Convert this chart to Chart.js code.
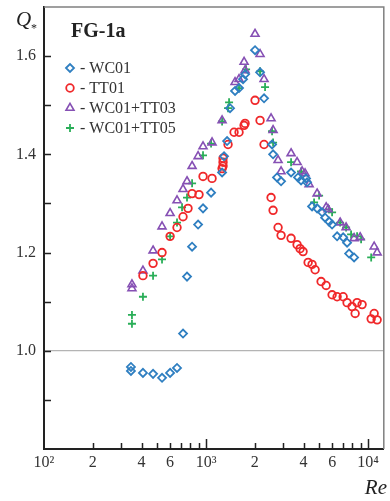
<!DOCTYPE html>
<html>
<head>
<meta charset="utf-8">
<script src="https://cdn.jsdelivr.net/npm/chart.js@4.4.0/dist/chart.umd.min.js"></script>
<style>
  html, body { margin: 0; padding: 0; background: #fff; }
  #wrap { width: 390px; height: 501px; }
</style>
</head>
<body>
<div id="wrap"><canvas id="fg1a" width="390" height="501"></canvas></div>
<script>
// Q* vs Re, one array pair per series
const reWC01 = [344, 344, 408, 471, 535, 600, 662, 721, 763, 820, 893, 958, 1074, 1256, 1291, 1348, 1406, 1510, 1598, 1692, 1741,
  2006, 2154, 2280, 2555, 2592, 2742, 2904, 3347, 3697, 3857, 4142, 4200, 4511, 4845, 5203, 5430, 5745, 5995, 6438, 7016, 7419, 7631, 8196];
const qWC01 = [0.967, 0.959, 0.955, 0.953, 0.945, 0.955, 0.965, 1.035, 1.151, 1.212, 1.257, 1.290, 1.322, 1.363, 1.396, 1.427, 1.494, 1.529, 1.535, 1.553, 1.563,
  1.612, 1.567, 1.514, 1.420, 1.400, 1.353, 1.345, 1.363, 1.353, 1.347, 1.351, 1.343, 1.294, 1.290, 1.282, 1.271, 1.263, 1.257, 1.233, 1.231, 1.220, 1.198, 1.190];

const reTT01 = [408, 471, 535, 600, 662, 721, 774, 820, 905, 958, 1089, 1256, 1273, 1273, 1273, 1367, 1489, 1598, 1717, 1741,
  2006, 2154, 2280, 2519, 2592, 2783, 2904, 3347, 3646, 3804, 3969, 4265, 4511, 4710, 5128, 5508, 5995, 6438, 7016, 7419, 7962, 8318, 8551, 9183, 10447, 10900, 11370];
const qTT01 = [1.153, 1.178, 1.200, 1.233, 1.251, 1.273, 1.290, 1.320, 1.318, 1.355, 1.351, 1.371, 1.376, 1.384, 1.392, 1.420, 1.445, 1.445, 1.459, 1.463,
  1.510, 1.469, 1.420, 1.312, 1.286, 1.251, 1.235, 1.229, 1.216, 1.208, 1.202, 1.180, 1.176, 1.165, 1.141, 1.133, 1.114, 1.110, 1.110, 1.098, 1.090, 1.076, 1.098, 1.094, 1.065, 1.076, 1.063];

const reTT03 = [349, 349, 408, 471, 535, 600, 662, 721, 763, 820, 893, 958, 1089, 1256, 1510, 1598, 1717, 1741,
  2006, 2154, 2280, 2519, 2592, 2783, 2904, 3347, 3646, 3915, 4083, 4325, 4845, 5508, 5664, 6719, 7314, 8196, 8929, 10900, 11370];
const qTT03 = [1.135, 1.127, 1.163, 1.204, 1.253, 1.280, 1.306, 1.329, 1.345, 1.376, 1.396, 1.416, 1.424, 1.469, 1.547, 1.553, 1.588, 1.571,
  1.645, 1.604, 1.553, 1.473, 1.449, 1.388, 1.365, 1.402, 1.384, 1.365, 1.361, 1.339, 1.320, 1.292, 1.288, 1.261, 1.251, 1.229, 1.231, 1.212, 1.200];

const reTT05 = [349, 349, 408, 471, 535, 600, 662, 711, 763, 820, 958, 1074, 1256, 1367, 1387, 1598, 1766,
  2154, 2313, 2555, 2592, 3347, 3857, 4642, 4985, 5745, 5995, 6719, 7314, 7852, 8551, 9053, 10447];
const qTT05 = [1.073, 1.055, 1.110, 1.153, 1.186, 1.233, 1.261, 1.292, 1.312, 1.341, 1.398, 1.422, 1.467, 1.494, 1.506, 1.535, 1.573,
  1.569, 1.537, 1.447, 1.424, 1.384, 1.365, 1.302, 1.316, 1.288, 1.282, 1.261, 1.251, 1.237, 1.233, 1.227, 1.190];

const seriesNames = ['WC01', 'TT01', 'WC01+TT03', 'WC01+TT05'];

// axis ticks
const xTickValues = [100, 200, 300, 400, 500, 600, 700, 800, 900, 1000, 2000, 3000, 4000, 5000, 6000, 7000, 8000, 9000, 10000];
const xTickLabels = ['10²', '2', '', '4', '', '6', '', '', '', '10³', '2', '', '4', '', '6', '', '', '', '10⁴'];
const yTickValues = [0.9, 1.0, 1.1, 1.2, 1.3, 1.4, 1.5, 1.6];
const yTickLabels = ['', '1.0', '', '1.2', '', '1.4', '', '1.6'];

const serif = '"Liberation Serif", "DejaVu Serif", serif';

const pts = (xs, ys) => xs.map((v, i) => ({ x: v, y: ys[i] }));

const styles = [
  { pointStyle: 'rectRot', color: '#2f7fc1', radius: 4, width: 1.8 },
  { pointStyle: 'circle', color: '#f0282a', radius: 3.8, width: 1.8 },
  { pointStyle: 'triangle', color: '#8650b4', radius: 4.6, width: 1.6 },
  { pointStyle: 'cross', color: '#2aae58', radius: 4, width: 1.8 }
];

const allData = [pts(reWC01, qWC01), pts(reTT01, qTT01), pts(reTT03, qTT03), pts(reTT05, qTT05)];

const datasets = allData.map((d, i) => ({
  label: seriesNames[i],
  data: d,
  showLine: false,
  pointStyle: styles[i].pointStyle,
  pointRadius: styles[i].radius,
  pointHoverRadius: styles[i].radius,
  pointBorderWidth: styles[i].width,
  borderColor: styles[i].color,
  backgroundColor: 'rgba(0,0,0,0)'
}));

// frame, inward ticks, titles, panel label and legend
const decor = {
  id: 'decor',
  afterDraw(chart) {
    const { ctx, chartArea: a, scales } = chart;
    const x = scales.x, y = scales.y;
    ctx.save();

    ctx.strokeStyle = '#808080';
    ctx.lineWidth = 1.5;
    ctx.beginPath();
    ctx.moveTo(a.left, a.top);
    ctx.lineTo(a.right, a.top);
    ctx.lineTo(a.right, a.bottom);
    ctx.stroke();

    ctx.strokeStyle = '#222';
    ctx.lineWidth = 1.5;
    ctx.beginPath();
    xTickValues.forEach(v => {
      if (v === 100) return;
      const px = Math.round(x.getPixelForValue(v)) + 0.5;
      const len = (v === 1000 || v === 10000) ? 10 : 6;
      ctx.moveTo(px, a.bottom);
      ctx.lineTo(px, a.bottom - len);
    });
    yTickValues.forEach(v => {
      const py = Math.round(y.getPixelForValue(v)) + 0.5;
      ctx.moveTo(a.left, py);
      ctx.lineTo(a.left + 7, py);
    });
    ctx.stroke();

    ctx.fillStyle = '#222';
    ctx.textBaseline = 'alphabetic';
    ctx.font = 'italic 21px ' + serif;
    ctx.textAlign = 'left';
    ctx.fillText('Q', 16, 26);
    ctx.font = '12px ' + serif;
    ctx.fillText('*', 31, 32);
    ctx.font = 'italic 21px ' + serif;
    ctx.textAlign = 'right';
    ctx.fillText('Re', 387, 494);

    ctx.textAlign = 'left';
    ctx.font = 'bold 20px ' + serif;
    ctx.fillText('FG-1a', 71, 37);

    ctx.font = '16px ' + serif;
    chart.data.datasets.forEach((ds, i) => {
      const cy = 68 + i * 20;
      ctx.strokeStyle = ds.borderColor;
      ctx.fillStyle = 'rgba(0,0,0,0)';
      ctx.lineWidth = ds.pointBorderWidth;
      Chart.helpers.drawPoint(ctx, {
        pointStyle: ds.pointStyle,
        radius: ds.pointRadius,
        borderWidth: ds.pointBorderWidth,
        rotation: 0
      }, 70, cy);
      ctx.fillStyle = '#333';
      ctx.fillText('- ' + ds.label, 80, cy + 5);
    });
    ctx.restore();
  }
};

new Chart(document.getElementById('fg1a'), {
  type: 'scatter',
  data: { datasets },
  options: {
    responsive: false,
    animation: false,
    events: [],
    layout: { padding: { top: 7, right: 5, left: 0, bottom: 0 } },
    plugins: { legend: { display: false }, tooltip: { enabled: false } },
    scales: {
      x: {
        type: 'logarithmic',
        min: 100,
        max: 12500,
        afterFit: s => { s.height = 52; s.paddingLeft = 0; s.paddingRight = 0; },
        afterBuildTicks: s => { s.ticks = xTickValues.map(v => ({ value: v })); },
        grid: { display: false, drawTicks: false },
        border: { display: true, color: '#222', width: 2 },
        ticks: {
          autoSkip: false,
          maxRotation: 0,
          padding: 4,
          color: '#333',
          font: { family: serif, size: 16 },
          callback: v => {
            const i = xTickValues.indexOf(v);
            return i < 0 ? '' : xTickLabels[i];
          }
        }
      },
      y: {
        min: 0.8,
        max: 1.7,
        afterFit: s => { s.width = 44; s.paddingTop = 0; s.paddingBottom = 0; },
        afterBuildTicks: s => { s.ticks = yTickValues.map(v => ({ value: v })); },
        grid: {
          drawTicks: false,
          lineWidth: 1.2,
          color: c => (c.tick && Math.abs(c.tick.value - 1.0) < 1e-6) ? '#b4b4b4' : 'rgba(0,0,0,0)'
        },
        border: { display: true, color: '#222', width: 2 },
        ticks: {
          padding: 8,
          color: '#333',
          font: { family: serif, size: 16 },
          callback: (v, i) => yTickLabels[i]
        }
      }
    }
  },
  plugins: [decor]
});
</script>
</body>
</html>
